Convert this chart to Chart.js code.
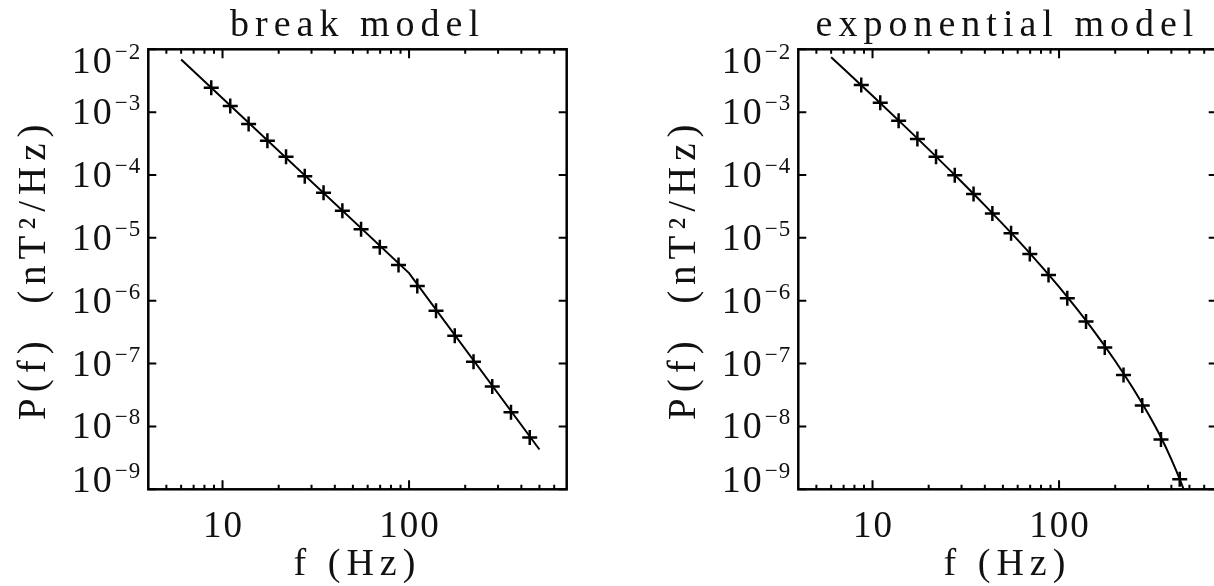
<!DOCTYPE html>
<html>
<head>
<meta charset="utf-8">
<script src="https://cdn.jsdelivr.net/npm/chart.js@4.4.1/dist/chart.umd.min.js"></script>
<style>
  html, body { margin: 0; padding: 0; background: #fff; overflow: hidden; width: 1214px; height: 586px; }
  canvas { position: absolute; top: 0; }
  #breakChart { left: 0; }
  #expChart { left: 650px; }
</style>
</head>
<body>
<canvas id="breakChart" width="715" height="586"></canvas>
<canvas id="expChart" width="715" height="586"></canvas>
<script>
// measured spectrum points (Hz)
const markerFreq = [8.7, 11.0, 13.8, 17.4, 21.9, 27.6, 34.8, 43.9, 55.3, 69.7, 87.8, 110.7, 139.5, 175.8, 221.6, 279.2, 351.9, 443.5];
const breakPower = [2.45e-3, 1.25e-3, 6.5e-4, 3.5e-4, 1.95e-4, 9.6e-5, 5.2e-5, 2.7e-5, 1.37e-5, 7.1e-6, 3.7e-6, 1.71e-6, 6.95e-7, 2.78e-7, 1.07e-7, 4.3e-8, 1.68e-8, 6.7e-9];
const expPower = [2.7e-3, 1.41e-3, 7.3e-4, 3.74e-4, 1.95e-4, 9.9e-5, 4.98e-5, 2.45e-5, 1.18e-5, 5.56e-6, 2.56e-6, 1.1e-6, 4.68e-7, 1.8e-7, 6.56e-8, 2.15e-8, 6.2e-9, 1.45e-9];

// model curves
const breakLineFreq = [6, 100, 500];
const breakLinePower = [6.9e-3, 2.75e-6, 4.3e-9];
const expLineFreq = [6, 10, 15, 20, 30, 40, 60, 80, 100, 150, 200, 250, 300, 350, 400, 450, 500];
const expLinePower = [7.5e-3, 1.83e-3, 5.83e-4, 2.56e-4, 7.82e-5, 3.29e-5, 9.27e-6, 3.59e-6, 1.66e-6, 3.64e-7, 1.1e-7, 3.97e-8, 1.6e-8, 6.9e-9, 3.0e-9, 1.3e-9, 5.5e-10];

// axes
const xLabelTicks = [10, 100];
const xMinorTicks = [5, 6, 7, 8, 9, 20, 30, 40, 50, 60, 70, 80, 90, 200, 300, 400, 500, 600, 700];
const yTicks = [1e-2, 1e-3, 1e-4, 1e-5, 1e-6, 1e-7, 1e-8, 1e-9];
const yExponents = [2, 3, 4, 5, 6, 7, 8, 9];

const FONT = '"Liberation Serif", "DejaVu Serif", serif';

// IDL-style box with inward ticks and 10^n labels
const idlAxes = {
  id: 'idlAxes',
  beforeDraw(chart) { chart.ctx.letterSpacing = '6px'; },
  afterDraw(chart) {
    const { ctx, chartArea: a, scales: { x, y } } = chart;
    ctx.save();
    ctx.strokeStyle = '#000';
    ctx.lineWidth = 2.5;
    ctx.strokeRect(a.left, a.top, a.right - a.left, a.bottom - a.top);

    ctx.lineWidth = 2;
    ctx.beginPath();
    const xTick = (v, len) => {
      const px = x.getPixelForValue(v);
      if (px <= a.left || px >= a.right) return;
      ctx.moveTo(px, a.bottom); ctx.lineTo(px, a.bottom - len);
      ctx.moveTo(px, a.top); ctx.lineTo(px, a.top + len);
    };
    xLabelTicks.forEach(v => xTick(v, 9));
    xMinorTicks.forEach(v => xTick(v, 4.5));
    yTicks.forEach(v => {
      const py = y.getPixelForValue(v);
      ctx.moveTo(a.left, py); ctx.lineTo(a.left + 8, py);
      ctx.moveTo(a.right, py); ctx.lineTo(a.right - 8, py);
    });
    ctx.stroke();

    ctx.fillStyle = '#111';
    ctx.textBaseline = 'alphabetic';
    ctx.letterSpacing = '2px';
    ctx.font = '37px ' + FONT;
    ctx.textAlign = 'center';
    xLabelTicks.forEach(v => ctx.fillText(String(v), x.getPixelForValue(v) + 1, a.bottom + 48));

    ctx.textAlign = 'right';
    yTicks.forEach((v, i) => {
      const py = Math.min(Math.max(y.getPixelForValue(v), a.top + 12), a.bottom - 9);
      const exp = '\u2212' + yExponents[i];
      ctx.letterSpacing = '1px';
      ctx.font = '23px ' + FONT;
      const ew = ctx.measureText(exp).width;
      ctx.fillText(exp, a.left - 7, py - 2);
      ctx.letterSpacing = '2px';
      ctx.font = '38px ' + FONT;
      ctx.fillText('10', a.left - 8 - ew, py + 12);
    });
    ctx.restore();
  }
};

function makeChart(id, title, power, lineFreq, linePower, smooth) {
  const ctx = document.getElementById(id).getContext('2d');
  return new Chart(ctx, {
    type: 'line',
    data: {
      datasets: [
        {
          data: lineFreq.map((f, i) => ({ x: f, y: linePower[i] })),
          borderColor: '#000', borderWidth: 2, pointRadius: 0,
          tension: 0, cubicInterpolationMode: smooth ? 'monotone' : 'default', fill: false
        },
        {
          data: markerFreq.map((f, i) => ({ x: f, y: power[i] })),
          showLine: false, pointStyle: 'cross', pointRadius: 7.5,
          borderColor: '#000', borderWidth: 2.5, backgroundColor: '#000'
        }
      ]
    },
    options: {
      responsive: false,
      animation: false,
      layout: { padding: { left: 0, right: 148.3, top: 0, bottom: 0 } },
      plugins: {
        legend: { display: false },
        tooltip: { enabled: false },
        title: {
          display: true, text: title, fullSize: false, color: '#111',
          font: { family: FONT, size: 38, weight: 'normal', lineHeight: 1.2 },
          padding: { top: 3.7, bottom: 0 }
        }
      },
      scales: {
        x: {
          type: 'logarithmic', min: 4, max: 700,
          grid: { display: false }, border: { display: false },
          ticks: { display: false },
          title: { display: true, text: 'f (Hz)', color: '#111', font: { family: FONT, size: 38, lineHeight: 1.1 }, padding: { top: 0, bottom: 0 } },
          afterFit: s => { s.height = 96.7; }
        },
        y: {
          type: 'logarithmic', min: 1e-9, max: 1e-2,
          grid: { display: false }, border: { display: false },
          ticks: { display: false },
          title: { display: true, text: 'P(f)  (nT\u00b2/Hz)', color: '#111', font: { family: FONT, size: 39, lineHeight: 1.2 }, padding: { top: 11, bottom: 0 } },
          afterFit: s => { s.width = 148.3; }
        }
      }
    },
    plugins: [idlAxes]
  });
}

makeChart('breakChart', 'break model', breakPower, breakLineFreq, breakLinePower, false);
makeChart('expChart', 'exponential model', expPower, expLineFreq, expLinePower, true);
</script>
</body>
</html>
